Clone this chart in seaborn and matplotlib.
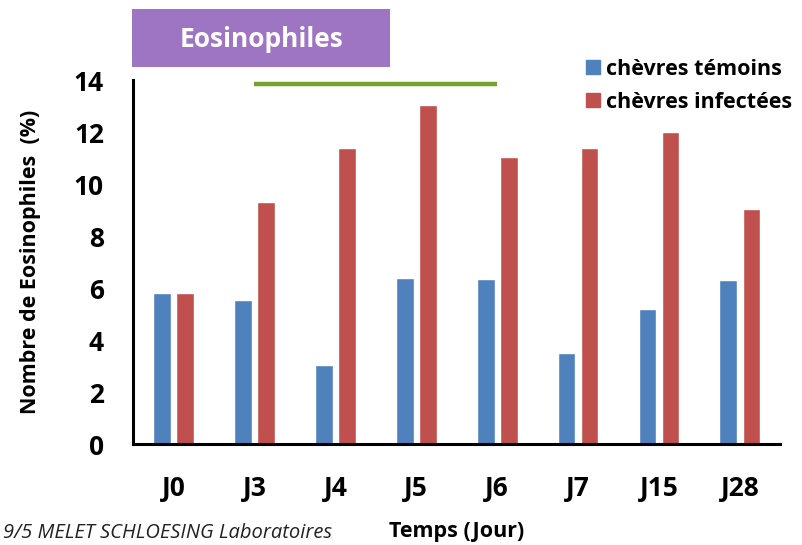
import matplotlib
matplotlib.use("Agg")
import matplotlib.pyplot as plt
import seaborn as sns
import pandas as pd
from matplotlib.patches import Rectangle
from matplotlib.lines import Line2D

# Data
days = ['J0', 'J3', 'J4', 'J5', 'J6', 'J7', 'J15', 'J28']
temoins = [5.8, 5.55, 3.05, 6.4, 6.35, 3.5, 5.2, 6.3]
infectees = [5.8, 9.3, 11.4, 13.05, 11.05, 11.4, 12.0, 9.05]
groups = ['chèvres témoins', 'chèvres infectées']
colors = ['#4f81bd', '#c0504d']

df = pd.DataFrame({
    'jour': days * 2,
    'valeur': temoins + infectees,
    'groupe': [groups[0]] * len(days) + [groups[1]] * len(days),
})

sns.set_style('white')
plt.rcParams['font.family'] = ['Open Sans', 'DejaVu Sans']
plt.rcParams['font.weight'] = 'bold'
plt.rcParams['text.color'] = 'black'
plt.rcParams['axes.labelcolor'] = 'black'
plt.rcParams['xtick.color'] = 'black'
plt.rcParams['ytick.color'] = 'black'

fig = plt.figure(figsize=(8.02, 5.45), dpi=100)
ax = fig.add_axes([0.166, 0.185, 0.807, 0.668])

sns.barplot(data=df, x='jour', y='valeur', hue='groupe', palette=colors,
            width=0.57, gap=0.23, ax=ax, legend=False, saturation=1)

ax.set_ylim(0, 14)
ax.set_xlim(-0.5, len(days) - 0.5)
ax.set_yticks(range(0, 15, 2))
ax.tick_params(axis='y', direction='in', length=8, width=2, labelsize=19, pad=21)
ax.tick_params(axis='x', length=0, labelsize=19, pad=22)
for lab in ax.get_xticklabels() + ax.get_yticklabels():
    lab.set_fontweight('bold')
for s in ['top', 'right']:
    ax.spines[s].set_visible(False)
for s in ['left', 'bottom']:
    ax.spines[s].set_linewidth(2.2)
    ax.spines[s].set_color('black')

ax.set_ylabel('Nombre de Eosinophiles  (%)', fontsize=15.5, fontweight='bold', labelpad=24)
ax.set_xlabel('Temps (Jour)', fontsize=15.5, fontweight='bold', labelpad=14)

# green significance line from J3 to J6
ax.plot([1, 4], [13.85, 13.85], color='#77a22f', lw=3.2, clip_on=False,
        solid_capstyle='butt')

# title box
fig.patches.append(Rectangle((132 / 802, 1 - 67 / 545), 258 / 802, 58 / 545,
                             transform=fig.transFigure, facecolor='#9e75c2',
                             edgecolor='none'))
fig.text(261 / 802, 1 - 39 / 545, 'Eosinophiles', color='white', fontsize=19,
         fontweight='bold', ha='center', va='center')

# legend
handles = [Line2D([], [], marker='s', linestyle='none', markersize=10, color=c)
           for c in colors]
fig.legend(handles, groups, loc='upper left', bbox_to_anchor=(584 / 802, 1 - 59 / 545),
           frameon=False, prop={'size': 15.5, 'weight': 'bold'}, borderpad=0,
           borderaxespad=0, handletextpad=0.2, labelspacing=0.55, handlelength=0.8)

# footer
fig.text(0.004, 0.004, '9/5 MELET SCHLOESING Laboratoires', fontsize=14.5,
         style='italic', fontweight='normal', color='#222222', va='bottom')

fig.savefig('out.png', dpi=100)
